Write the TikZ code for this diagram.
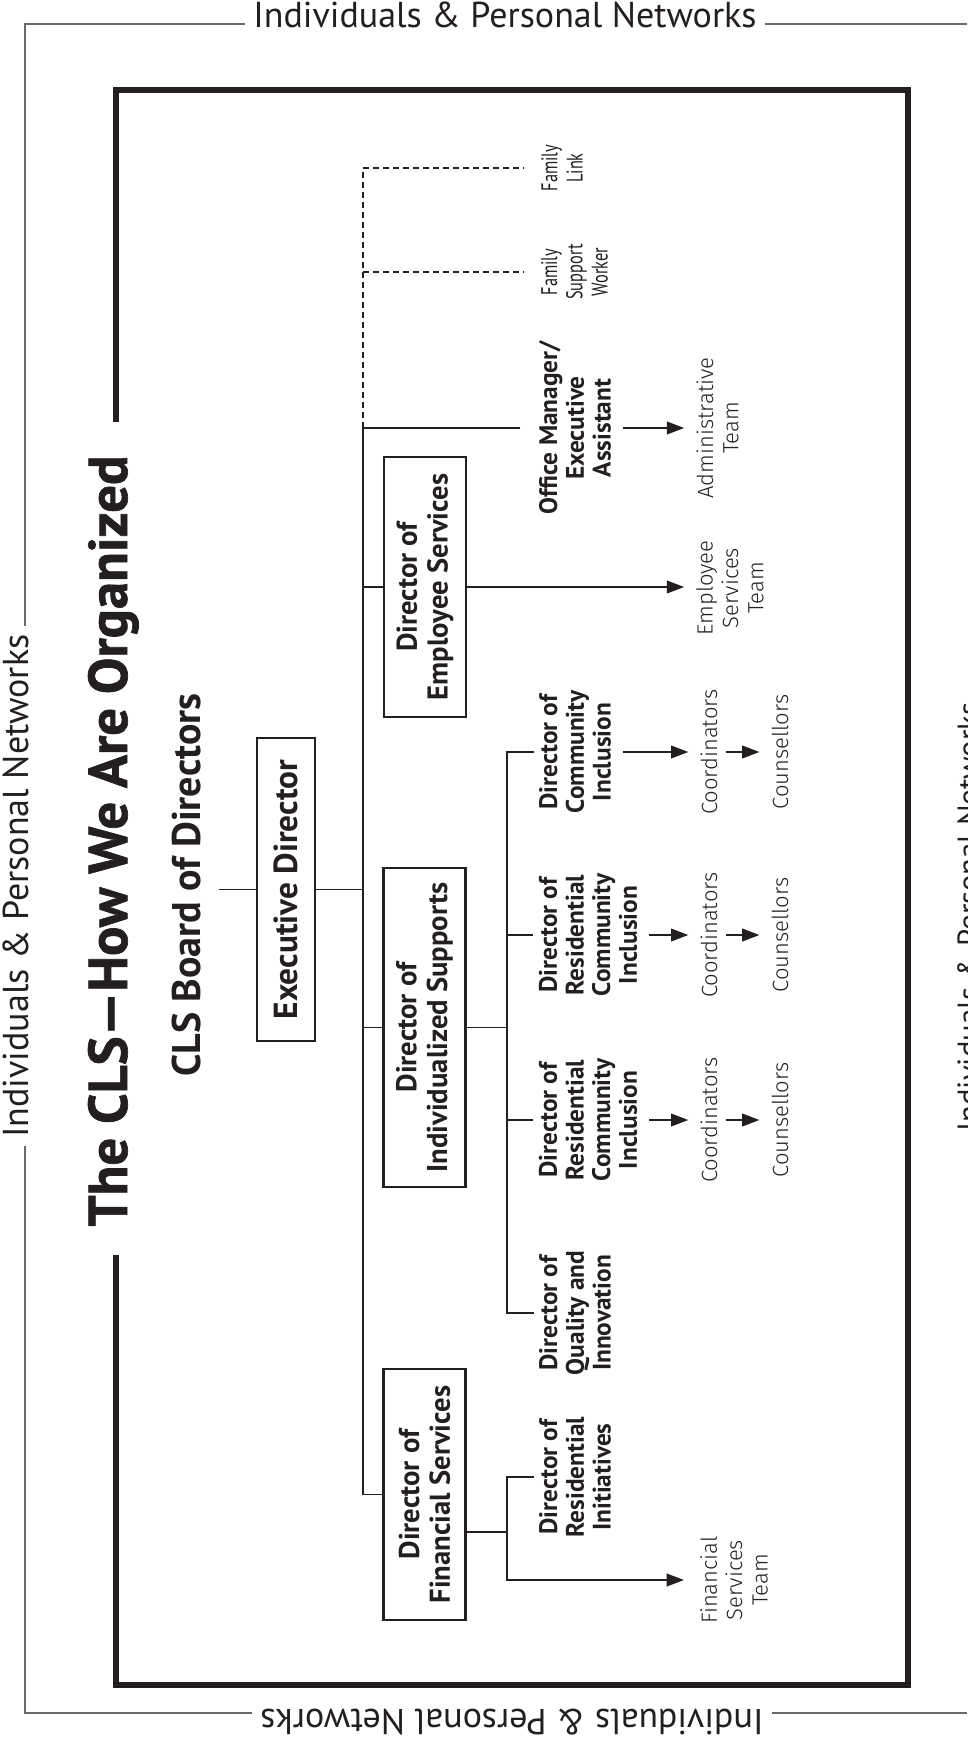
\documentclass[tikz,border=0pt]{standalone}
\usepackage{fontspec}
\setmainfont{PT Sans}
\newfontfamily\lightfont{Fira Sans Light}
\newfontfamily\narrowfont{PT Sans}[FakeStretch=0.72]
\newfontfamily\heavyfont{PT Sans}[BoldFeatures={FakeBold=1.2}]
\usetikzlibrary{arrows.meta}
\definecolor{ink}{RGB}{35,31,32}
\definecolor{rim}{RGB}{105,105,105}

\begin{document}
\begin{tikzpicture}[x=0.75pt,y=-0.75pt,
  rimtext/.style={font=\fontsize{27pt}{32pt}\selectfont, text=ink, inner xsep=6pt, inner ysep=0pt},
  rimline/.style={draw=rim, line width=0.9pt},
  box/.style={draw=ink, line width=1.6pt, rotate=90, align=center, text=ink, inner sep=2pt,
    font=\bfseries\fontsize{21.5pt}{23pt}\selectfont},
  head/.style={rotate=90, align=center, text=ink, inner sep=4pt,
    font=\bfseries\fontsize{19pt}{20pt}\selectfont},
  team/.style={rotate=90, align=center, text=ink, inner sep=4pt,
    font=\lightfont\fontsize{16.5pt}{19pt}\selectfont},
  aide/.style={rotate=90, align=center, text=ink, inner sep=4pt,
    font=\narrowfont\fontsize{17pt}{19pt}\selectfont},
  link/.style={draw=ink, line width=1.4pt},
  dlink/.style={draw=ink, line width=0.8pt, dash pattern=on 4.5pt off 3pt},
  arr/.style={link, -{Triangle[length=13pt,width=9.5pt]}, shorten <=5pt, shorten >=5pt}]
\useasboundingbox (0,0) rectangle (967,1758);
\coordinate (ne) at (967,0);
\coordinate (bus) at (363,0);
\coordinate (sub) at (507,0);
\coordinate (fnw) at (116,90);
\coordinate (fse) at (908,1685);
\coordinate (fj) at (507,1532);

\node[rimtext, anchor=mid] (topnet) at (505,24) {Individuals \& Personal Networks};
\node[rimtext, anchor=mid, rotate=90] (leftnet) at (25,886) {Individuals \& Personal Networks};
\node[rimtext, anchor=mid, rotate=180] (botnet) at (512,1713) {Individuals \& Personal Networks};
\node[rimtext, anchor=north, rotate=90, font=\fontsize{23pt}{28pt}\selectfont] (rightnet) at (957,917) {Individuals \& Personal Networks};
\draw[rimline] (topnet.mid west) -- (topnet.mid west -| leftnet.mid) -- (leftnet.mid east);
\draw[rimline] (leftnet.mid west) -- (leftnet.mid west |- botnet.mid) -- (botnet.mid east);
\draw[rimline] (topnet.mid east) -- (topnet.mid east -| ne);
\draw[rimline] (botnet.mid west) -- (botnet.mid west -| ne);

\node[rotate=90, anchor=base, text=ink, inner sep=0pt,
  font=\heavyfont\bfseries\fontsize{41pt}{48pt}\selectfont] (title) at (127,841) {The CLS\textemdash How We Are Organized};
\coordinate (gapn) at ([yshift=25pt]title.east);
\coordinate (gaps) at ([yshift=-21pt]title.west);
\draw[ink, line width=4.9pt] (gapn -| fnw) -- (fnw) -- (fnw -| fse) -- (fse) -- (fse -| fnw) -- (gaps -| fnw);

\node[rotate=90, anchor=base, text=ink, inner sep=4pt,
  font=\bfseries\fontsize{30pt}{35pt}\selectfont] (board) at (200,885) {CLS Board of Directors};
\node[box, font=\bfseries\fontsize{25pt}{29pt}\selectfont, minimum width=227pt, minimum height=43.5pt] (ed) at (286,889.5) {Executive Director};
\node[box, minimum width=195pt, minimum height=61.5pt] (es) at (425,587) {Director of\\Employee Services};
\node[box, minimum width=239pt, minimum height=61.5pt] (is) at (424.5,1027.5) {Director of\\Individualized Supports};
\node[box, minimum width=188pt, minimum height=61.5pt] (fs) at (424.5,1494.5) {Director of\\Financial Services};

\node[head] (om) at (575,428) {Office Manager/\\Executive\\Assistant};
\node[head] (dci) at (575,752) {Director of\\Community\\Inclusion};
\node[head] (rci) at (588,935) {Director of\\Residential\\Community\\Inclusion};
\node[head] (rcj) at (588,1120) {Director of\\Residential\\Community\\Inclusion};
\node[head] (dqi) at (575,1313) {Director of\\Quality and\\Innovation};
\node[head] (dri) at (575,1477) {Director of\\Residential\\Initiatives};

\node[aide] (fl) at (562,168) {Family\\Link};
\node[aide] (fsw) at (574.5,272) {Family\\Support\\Worker};

\node[team] (adm) at (717.5,428) {Administrative\\Team};
\node[team] (est) at (730,588) {Employee\\Services\\Team};
\node[team] (coa) at (709,752) {Coordinators};
\node[team] (csa) at (780,752) {Counsellors};
\node[team] (cob) at (709,935) {Coordinators};
\node[team] (csb) at (780,935) {Counsellors};
\node[team] (coc) at (709,1120) {Coordinators};
\node[team] (csc) at (780,1120) {Counsellors};
\node[team] (fst) at (734,1580) {Financial\\Services\\Team};

\draw[link, shorten <=9.5pt] (board.south |- ed.north) -- (ed.north);
\draw[link] (ed.south) -- (ed.south -| bus);
\draw[link, shorten <=10pt] (om.north) -- (om.north -| bus) -- (fs.north -| bus) -- (fs.north);
\draw[link] (es.north) -- (es.north -| bus);
\draw[link] (is.north) -- (is.north -| bus);
\draw[dlink, shorten >=9pt] (om.north -| bus) -- (fl.north -| bus) -- (fl.north);
\draw[dlink, shorten >=9pt] (fsw.north -| bus) -- (fsw.north);

\draw[link] (is.south) -- (is.south -| sub);
\draw[link] (dci.north) -- (dci.north -| sub) -- (dqi.north -| sub) -- (dqi.north);
\draw[link] (rci.north) -- (rci.north -| sub);
\draw[link] (rcj.north) -- (rcj.north -| sub);
\draw[link] (fs.south |- fj) -- (fj);
\draw[arr, shorten <=0pt, shorten >=8pt] (dri.north) -- (dri.north -| sub) -- (fst.north -| sub) -- (fst.north);

\draw[arr, shorten <=0pt] (es.south) -- (es.south -| est.north);
\draw[arr] (om.south) -- (om.south -| adm.north);
\draw[arr] (dci.south) -- (dci.south -| coa.north);
\draw[arr] (rci.south) -- (rci.south -| cob.north);
\draw[arr] (rcj.south) -- (rcj.south -| coc.north);
\draw[arr, shorten <=2pt] (coa.south) -- (coa.south -| csa.north);
\draw[arr, shorten <=2pt] (cob.south) -- (cob.south -| csb.north);
\draw[arr, shorten <=2pt] (coc.south) -- (coc.south -| csc.north);
\end{tikzpicture}
\end{document}
